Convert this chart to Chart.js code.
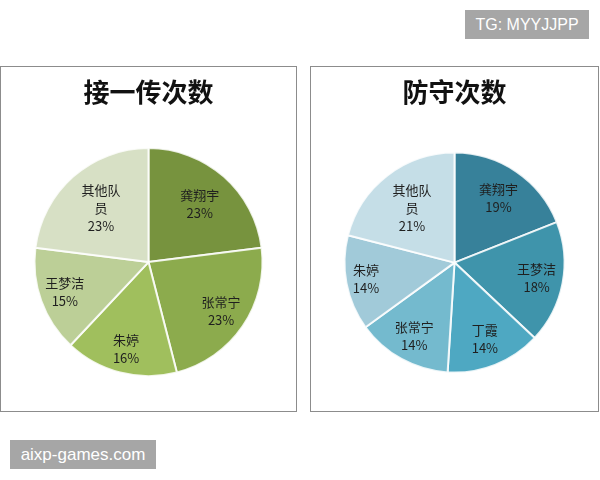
<!DOCTYPE html>
<html lang="zh">
<head>
<meta charset="UTF-8">
<title>接一传次数 / 防守次数</title>
<style>
    body, html {
        margin: 0;
        padding: 0;
        background: #ffffff;
        width: 600px;
        height: 480px;
        overflow: hidden;
        font-family: "Noto Sans CJK SC", sans-serif;
    }
    .panel {
        position: absolute;
        top: 66px;
        height: 346px;
        box-sizing: border-box;
        border: 1px solid #8c8c8c;
        background: #ffffff;
    }
    #leftPanel { left: 0; width: 297px; }
    #rightPanel { left: 310px; width: 289px; }
    .panel canvas { display: block; }
    .mark {
        position: absolute;
        background: #a6a6a6;
        color: #ffffff;
        font-family: "Liberation Sans", Arial, sans-serif;
        line-height: 29px;
        height: 29px;
        text-align: center;
    }
    #tg { left: 465px; top: 10px; width: 124px; font-size: 16px; }
    #site { left: 10px; top: 440px; width: 146px; font-size: 17px; }
</style>
</head>
<body>
<div class="panel" id="leftPanel"><canvas id="receiveChart" width="295" height="344"></canvas></div>
<div class="panel" id="rightPanel"><canvas id="defenseChart" width="287" height="344"></canvas></div>
<div class="mark" id="tg">TG: MYYJJPP</div>
<div class="mark" id="site">aixp-games.com</div>

<script src="https://cdn.jsdelivr.net/npm/chart.js"></script>
<script>
    // 接一传次数
    const receiveNames = ['龚翔宇', '张常宁', '朱婷', '王梦洁', '其他队员'];
    const receiveValues = [23, 23, 16, 15, 23];
    const receiveColors = ['#77933e', '#8cab4d', '#a0bf5d', '#bccf97', '#d7e0c5'];

    // 防守次数
    const defenseNames = ['龚翔宇', '王梦洁', '丁霞', '张常宁', '朱婷', '其他队员'];
    const defenseValues = [19, 18, 14, 14, 14, 21];
    const defenseColors = ['#37819a', '#3f94ab', '#4ea8c2', '#74bace', '#a1cad9', '#c5dee7'];

    // labels inside slices, like excel's "best fit"
    const sliceLabels = {
        id: 'sliceLabels',
        afterDatasetsDraw(chart, args, opts) {
            const ctx = chart.ctx;
            const meta = chart.getDatasetMeta(0);
            const data = chart.data.datasets[0].data;
            const total = data.reduce((a, b) => a + b, 0);
            ctx.save();
            ctx.font = '13px "Noto Sans CJK SC"';
            ctx.fillStyle = '#1f1f1f';
            ctx.textAlign = 'center';
            ctx.textBaseline = 'middle';
            meta.data.forEach((arc, i) => {
                const p = arc.getProps(['x', 'y', 'startAngle', 'endAngle', 'outerRadius'], true);
                const mid = (p.startAngle + p.endAngle) / 2;
                const r = p.outerRadius * opts.dist[i];
                const name = chart.data.labels[i];
                const lines = [];
                for (let k = 0; k < name.length; k += 3) lines.push(name.slice(k, k + 3));
                lines.push(Math.round(data[i] / total * 100) + '%');
                const cx = p.x + Math.cos(mid) * r;
                const cy = p.y + Math.sin(mid) * r;
                lines.forEach((t, j) => {
                    ctx.fillText(t, cx, cy + (j - (lines.length - 1) / 2) * 18);
                });
            });
            ctx.restore();
        }
    };

    function makePie(id, title, names, values, colors, radius, padBottom, dist) {
        return new Chart(document.getElementById(id), {
            type: 'pie',
            data: {
                labels: names,
                datasets: [{
                    data: values,
                    backgroundColor: colors,
                    borderColor: 'rgba(255,255,255,0.85)',
                    borderWidth: 2,
                    radius: radius
                }]
            },
            options: {
                responsive: false,
                animation: false,
                layout: { padding: { bottom: padBottom } },
                plugins: {
                    legend: { display: false },
                    tooltip: { enabled: false },
                    title: {
                        display: true,
                        text: title,
                        color: '#111111',
                        font: { family: '"Noto Sans CJK SC"', size: 26, weight: 'bold' },
                        padding: { top: 10, bottom: 6 }
                    },
                    sliceLabels: { dist: dist }
                }
            },
            plugins: [sliceLabels]
        });
    }

    makePie('receiveChart', '接一传次数', receiveNames, receiveValues, receiveColors,
        114, 1, [0.68, 0.77, 0.79, 0.78, 0.63]);
    makePie('defenseChart', '防守次数', defenseNames, defenseValues, defenseColors,
        110, 0, [0.71, 0.76, 0.75, 0.76, 0.82, 0.63]);
</script>
</body>
</html>
